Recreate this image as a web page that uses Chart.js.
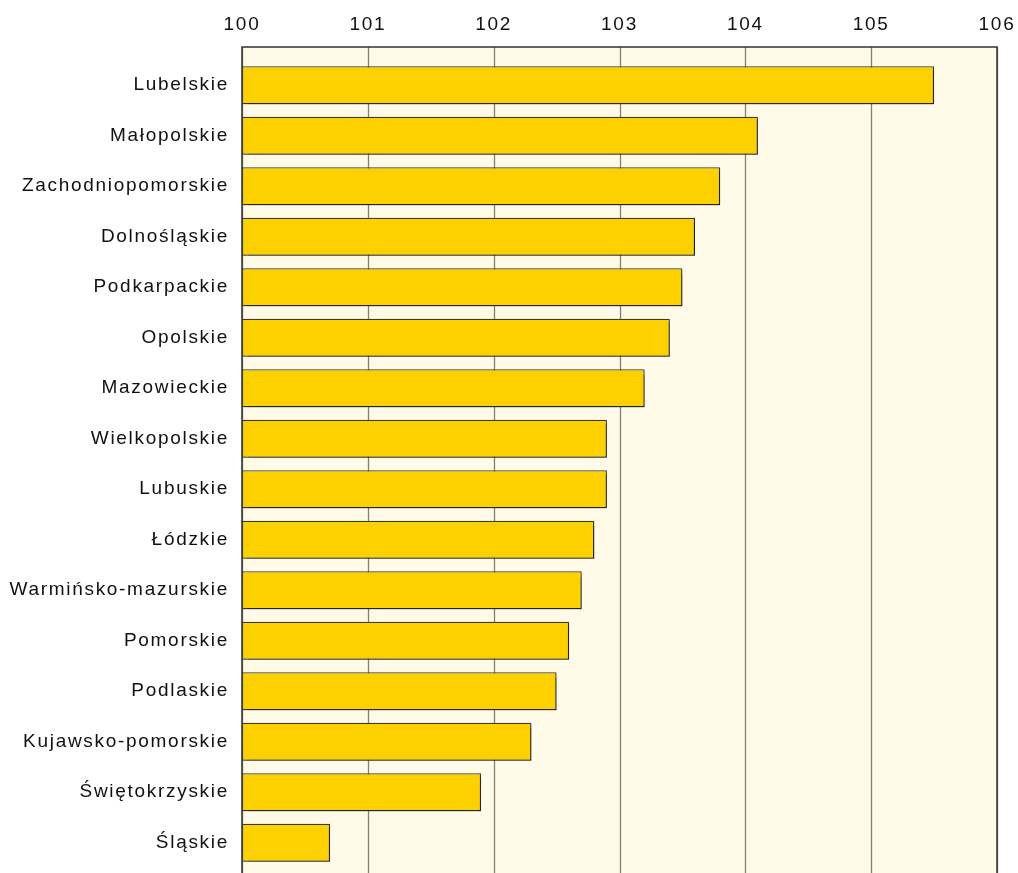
<!DOCTYPE html>
<html>
<head>
<meta charset="utf-8">
<script src="https://cdn.jsdelivr.net/npm/chart.js@4"></script>
<style>
  html, body { margin: 0; padding: 0; background: #fff; }
  #wrap { width: 1018px; height: 873px; }
</style>
</head>
<body>
<div id="wrap"><canvas id="regions-chart"></canvas></div>
<script>
const regions = ['Lubelskie', 'Małopolskie', 'Zachodniopomorskie', 'Dolnośląskie', 'Podkarpackie',
    'Opolskie', 'Mazowieckie', 'Wielkopolskie', 'Lubuskie', 'Łódzkie', 'Warmińsko-mazurskie',
    'Pomorskie', 'Podlaskie', 'Kujawsko-pomorskie', 'Świętokrzyskie', 'Śląskie'];
const values = [105.5, 104.1, 103.8, 103.6, 103.5, 103.4, 103.2, 102.9, 102.9, 102.8, 102.7,
    102.6, 102.5, 102.3, 101.9, 100.7];
const tickValues = [100, 101, 102, 103, 104, 105, 106];

const frameTop = 47;
const spacing = '1.7px';

// background, grid and frame drawn under the bars
const framePlugin = {
    id: 'frame',
    beforeLayout(chart) {
        chart.ctx.letterSpacing = spacing;
    },
    beforeDraw(chart) {
        chart.ctx.letterSpacing = spacing;
    },
    beforeDatasetsDraw(chart) {
        const ctx = chart.ctx;
        const x = chart.scales.x;
        const bottom = chart.height;
        ctx.save();
        ctx.fillStyle = '#fffbe8';
        ctx.fillRect(x.left, frameTop, x.right - x.left, bottom - frameTop);
        ctx.strokeStyle = '#80807a';
        ctx.lineWidth = 1.3;
        tickValues.forEach(v => {
            const px = Math.round(x.getPixelForValue(v)) + 0.5;
            ctx.beginPath();
            ctx.moveTo(px, frameTop);
            ctx.lineTo(px, bottom);
            ctx.stroke();
        });
        ctx.strokeStyle = '#333';
        ctx.lineWidth = 1.5;
        ctx.beginPath();
        ctx.moveTo(x.left, bottom);
        ctx.lineTo(x.left, frameTop);
        ctx.lineTo(x.right, frameTop);
        ctx.lineTo(x.right, bottom);
        ctx.stroke();
        ctx.restore();

        ctx.save();
        ctx.shadowColor = 'rgba(0,0,0,0.35)';
        ctx.shadowOffsetX = 2;
        ctx.shadowOffsetY = 2;
        ctx.shadowBlur = 1;
    },
    afterDatasetsDraw(chart) {
        chart.ctx.restore();
    }
};

document.addEventListener("DOMContentLoaded", () => {
    const el = document.getElementById('regions-chart');
    new Chart(el, {
        type: 'bar',
        data: {
            labels: regions,
            datasets: [
                {
                    label: 'Wskaźnik',
                    data: values,
                    base: 100,
                    backgroundColor: '#fdd000',
                    borderColor: '#3a3a2a',
                    borderWidth: 1.3,
                    borderSkipped: false,
                    barPercentage: 0.75,
                    categoryPercentage: 1
                }
            ]
        },
        options: {
            indexAxis: 'y',
            responsive: true,
            maintainAspectRatio: false,
            animation: false,
            layout: {
                padding: { top: 0, left: 0, right: 21, bottom: 5 }
            },
            plugins: {
                legend: { display: false },
                tooltip: { enabled: false }
            },
            scales: {
                x: {
                    position: 'top',
                    min: 100,
                    max: 106,
                    afterBuildTicks(scale) {
                        scale.ticks = tickValues.map(v => ({ value: v }));
                    },
                    afterFit(scale) {
                        scale.height = 60;
                        scale.paddingLeft = 0;
                        scale.paddingRight = 0;
                    },
                    grid: { display: false, drawTicks: false },
                    border: { display: false },
                    ticks: {
                        color: '#111',
                        padding: 24,
                        maxRotation: 0,
                        font: { family: 'Liberation Sans', size: 19 }
                    }
                },
                y: {
                    afterFit(scale) {
                        scale.width = 242;
                        scale.paddingTop = 0;
                        scale.paddingBottom = 0;
                    },
                    grid: { display: false, drawTicks: false },
                    border: { display: false },
                    ticks: {
                        color: '#111',
                        padding: 13,
                        font: { family: 'Liberation Sans', size: 19 }
                    }
                }
            }
        },
        plugins: [framePlugin]
    });
});
</script>
</body>
</html>
